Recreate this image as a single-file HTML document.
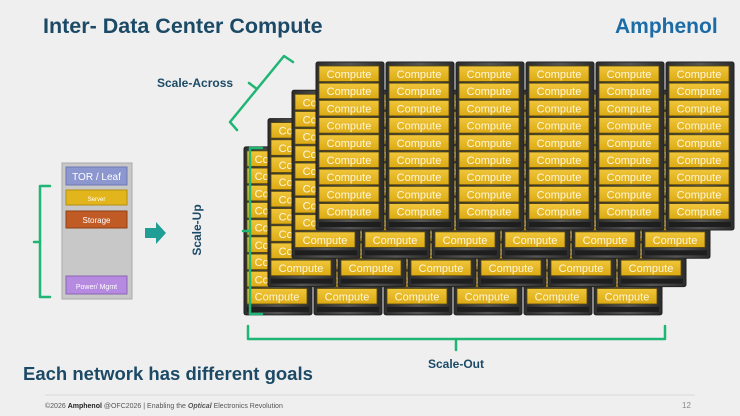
<!DOCTYPE html>
<html><head><meta charset="utf-8"><style>
html,body{margin:0;padding:0;width:740px;height:416px;overflow:hidden;background:#efefef;font-family:"Liberation Sans",sans-serif}
</style></head><body>
<svg id="s" width="740" height="416" xmlns="http://www.w3.org/2000/svg" style="position:absolute;left:0;top:0">
<defs>
<linearGradient id="rk" x1="0" y1="0" x2="1" y2="0"><stop offset="0" stop-color="#2c2c2c"/><stop offset="0.5" stop-color="#555"/><stop offset="1" stop-color="#2c2c2c"/></linearGradient>
<linearGradient id="yl" x1="0" y1="0" x2="0" y2="1"><stop offset="0" stop-color="#f0c63a"/><stop offset="1" stop-color="#dcaa14"/></linearGradient>
</defs>
<rect width="740" height="416" fill="#efefef"/>
<text x="43" y="33" font-size="21.5" font-weight="bold" fill="#1c4a66">Inter- Data Center Compute</text>
<text x="615" y="33" font-size="21" font-weight="bold" fill="#1b6ca6">Amphenol</text>
<g id="racks"></g>
<g fill="none" stroke="#1fb574" stroke-width="2.5" stroke-linecap="round" stroke-linejoin="round">
<path d="M237,130 L230,122 L284,56 L293,62"/>
<path d="M257,89 L249,83"/>
<path d="M262,148 L250,148 L250,314 L262,314"/>
<path d="M250,231 L243,231"/>
<path d="M248,326 L248,339 L665,339 L665,326"/>
<path d="M456,339 L456,350"/>
<path d="M50,186 L40,186 L40,297 L50,297"/>
<path d="M40,242 L34,242"/>
</g>
<text x="157" y="87" font-size="12" font-weight="bold" fill="#1c4a66">Scale-Across</text>
<text transform="translate(201,230) rotate(-90)" font-size="12" font-weight="bold" fill="#1c4a66" text-anchor="middle">Scale-Up</text>
<text x="456" y="368" font-size="12" font-weight="bold" fill="#1c4a66" text-anchor="middle">Scale-Out</text>
<rect x="62" y="163" width="70" height="136" fill="#c8c8c8" stroke="#aaa"/>
<rect x="66" y="167" width="61" height="18" fill="#8d97cf" stroke="#6f78b0"/>
<text x="96.5" y="180" font-size="10" fill="#fff" text-anchor="middle">TOR / Leaf</text>
<rect x="66" y="190" width="61" height="15" fill="#e3b51c" stroke="#b58e10"/>
<text x="96.5" y="201" font-size="6" fill="#fff" text-anchor="middle">Server</text>
<rect x="66" y="211" width="61" height="17" fill="#c05b26" stroke="#8f3f14"/>
<text x="96.5" y="223" font-size="8" fill="#fff" text-anchor="middle">Storage</text>
<rect x="66" y="276" width="61" height="18" fill="#b58ae0" stroke="#8c66b5"/>
<text x="96.5" y="289" font-size="7" fill="#fff" text-anchor="middle">Power/ Mgmt</text>
<path d="M145,228 L156,228 L156,222 L166,233 L156,244 L156,238 L145,238 Z" fill="#1f9e95"/>
<text x="23" y="380" font-size="18.5" font-weight="bold" fill="#1c4a66">Each network has different goals</text>
<line x1="45" y1="395" x2="695" y2="395" stroke="#d8d8d8" stroke-width="1"/>
<text x="45" y="408" font-size="7" fill="#555">©2026 <tspan font-weight="bold" fill="#222">Amphenol</tspan> @OFC2026 | Enabling the <tspan font-style="italic" font-weight="bold">Optical</tspan> Electronics Revolution</text>
<text x="682" y="408" font-size="8" fill="#888">12</text>
</svg>
<script>
var g=document.getElementById('racks'),h='';
for(var L=3;L>=0;L--){
 var ox=316-24*L, oy=62+28.3*L;
 for(var r=0;r<6;r++){
  var x=ox+70*r;
  h+='<rect x="'+x+'" y="'+oy+'" width="68" height="168" rx="2" fill="url(#rk)" stroke="#222"/>';
  for(var k=0;k<9;k++){
   var y=oy+4+k*17.2;
   h+='<rect x="'+(x+3)+'" y="'+y+'" width="60" height="15.5" fill="url(#yl)" stroke="#5a4a10" stroke-width="0.8"/>';
   h+='<text x="'+(x+33)+'" y="'+(y+12)+'" font-size="11" fill="#fff7dc" text-anchor="middle" font-family="Liberation Sans,sans-serif">Compute</text>';
  }
  h+='<rect x="'+(x+3)+'" y="'+(oy+160)+'" width="62" height="5" fill="#1e1e1e"/>';
 }
}
g.innerHTML=h;
</script>
</body></html>
